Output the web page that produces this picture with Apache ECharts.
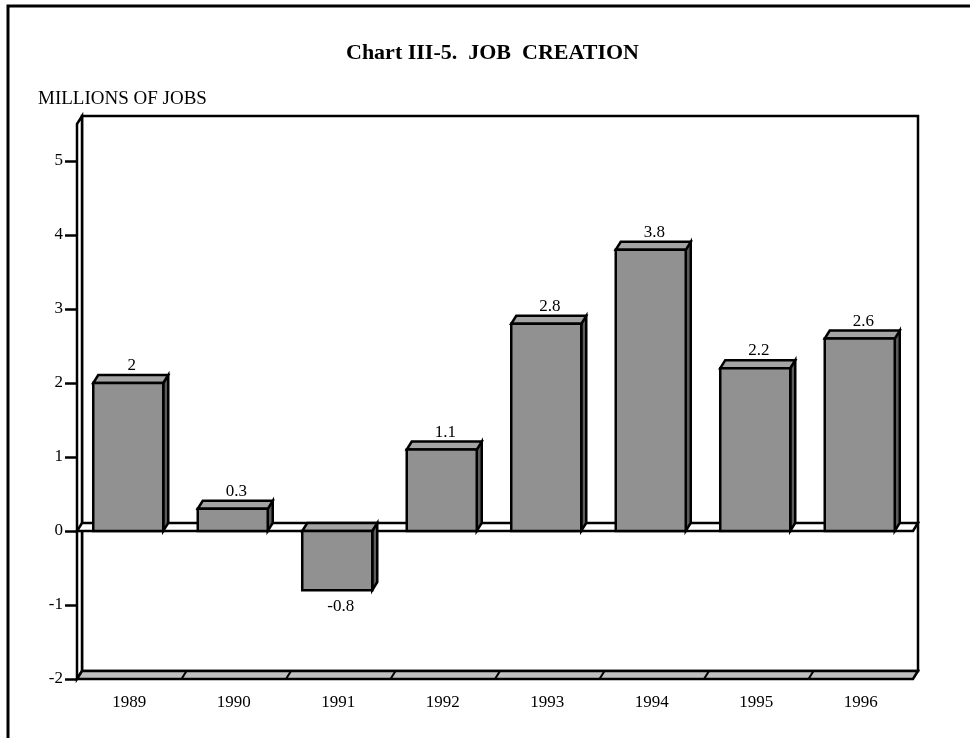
<!DOCTYPE html>
<html>
<head>
<meta charset="utf-8">
<script src="https://cdn.jsdelivr.net/npm/echarts@6/dist/echarts.min.js"></script>
<style>
html,body{margin:0;padding:0;background:#fff;}
#chart{width:970px;height:738px;}
</style>
</head>
<body>
<div id="chart"></div>
<script>
const categories = ['1989', '1990', '1991', '1992', '1993', '1994', '1995', '1996'];
const jobValues = [2, 0.3, -0.8, 1.1, 2.8, 3.8, 2.2, 2.6];
const valueLabels = ['2', '0.3', '-0.8', '1.1', '2.8', '3.8', '2.2', '2.6'];
const yMin = -2;
const yMax = 5;
const yInterval = 1;
const wallTop = 5.5;

const FONT = '"Liberation Serif", "Times New Roman", serif';
const DX = 5, DY = -8;
const LW = 2.5;

const chart = echarts.init(document.getElementById('chart'));

function renderFrame(params, api) {
  const cs = params.coordSys;
  const x0 = cs.x, x1 = cs.x + cs.width;
  const yTop = api.coord([0, wallTop])[1];
  const yBot = api.coord([0, yMin])[1];
  const y0 = api.coord([0, 0])[1];
  const stroke = { stroke: '#000', lineWidth: LW, lineJoin: 'miter' };
  const children = [];
  children.push({ type: 'rect', shape: { x: x0 + DX, y: yTop + DY, width: x1 - x0, height: yBot - yTop },
    style: Object.assign({ fill: '#fff' }, stroke) });
  children.push({ type: 'polygon', shape: { points: [[x0, yTop], [x0 + DX, yTop + DY], [x0 + DX, yBot + DY], [x0, yBot]] },
    style: Object.assign({ fill: '#fff' }, stroke) });
  children.push({ type: 'polygon', shape: { points: [[x0, yBot], [x1, yBot], [x1 + DX, yBot + DY], [x0 + DX, yBot + DY]] },
    style: Object.assign({ fill: '#c0c0c0' }, stroke) });
  const catW = api.size([1, 0])[0];
  for (let i = 1; i < categories.length; i++) {
    const xb = api.coord([i, 0])[0] - catW / 2;
    children.push({ type: 'line', shape: { x1: xb, y1: yBot, x2: xb + DX, y2: yBot + DY }, style: { stroke: '#000', lineWidth: 2 } });
  }
  children.push({ type: 'polygon', shape: { points: [[x0, y0], [x1, y0], [x1 + DX, y0 + DY], [x0 + DX, y0 + DY]] },
    style: Object.assign({ fill: '#fff' }, stroke) });
  return { type: 'group', children: children };
}

function renderBar(params, api) {
  const xi = api.value(0);
  const v = api.value(1);
  const c = api.coord([xi, v]);
  const base = api.coord([xi, 0]);
  const w = api.size([1, 0])[0] * 0.67;
  const xl = c[0] - w / 2 - 1;
  const xr = xl + w;
  const yt = Math.min(c[1], base[1]);
  const yb = Math.max(c[1], base[1]);
  const stroke = { stroke: '#000', lineWidth: LW, lineJoin: 'miter' };
  const children = [
    { type: 'polygon', shape: { points: [[xr, yt], [xr + DX, yt + DY], [xr + DX, yb + DY], [xr, yb]] },
      style: Object.assign({ fill: '#5c5c5c' }, stroke) },
    { type: 'polygon', shape: { points: [[xl, yt], [xr, yt], [xr + DX, yt + DY], [xl + DX, yt + DY]] },
      style: Object.assign({ fill: '#a4a4a4' }, stroke) },
    { type: 'rect', shape: { x: xl, y: yt, width: w, height: yb - yt },
      style: Object.assign({ fill: '#919191' }, stroke) }
  ];
  const label = valueLabels[params.dataIndex];
  if (v >= 0) {
    children.push({ type: 'text', style: { text: label, x: (xl + xr) / 2 + DX / 2 + 1, y: yt + DY - 1,
      align: 'center', verticalAlign: 'bottom', font: '17px ' + FONT, fill: '#000' } });
  } else {
    children.push({ type: 'text', style: { text: label, x: (xl + xr) / 2 + DX / 2 + 1, y: yb + 8,
      align: 'center', verticalAlign: 'top', font: '17px ' + FONT, fill: '#000' } });
  }
  return { type: 'group', children: children };
}

const option = {
  animation: false,
  backgroundColor: '#fff',
  title: [
    { text: 'Chart III-5.  JOB  CREATION', left: 346, top: 42, padding: 0,
      textStyle: { fontFamily: FONT, fontSize: 22, fontWeight: 'bold', color: '#000' } },
    { text: 'MILLIONS OF JOBS', left: 38, top: 90, padding: 0,
      textStyle: { fontFamily: FONT, fontSize: 19, fontWeight: 'normal', color: '#000' } }
  ],
  graphic: [
    { type: 'polyline', shape: { points: [[8, 738], [8, 6], [970, 6]] }, style: { stroke: '#000', lineWidth: 3, fill: null } }
  ],
  grid: { left: 77, right: 57, top: 161, bottom: 59, containLabel: false },
  xAxis: {
    type: 'category',
    data: categories,
    axisLine: { show: false },
    axisTick: { show: false },
    axisLabel: { fontFamily: FONT, fontSize: 17, color: '#000', margin: 15 },
    splitLine: { show: false }
  },
  yAxis: {
    type: 'value',
    min: yMin, max: yMax, interval: yInterval,
    axisLine: { show: false },
    axisTick: { show: true, length: 12, lineStyle: { color: '#000', width: 2.5 } },
    axisLabel: { fontFamily: FONT, fontSize: 17, color: '#000', margin: 14 },
    splitLine: { show: false }
  },
  series: [
    { type: 'custom', renderItem: renderFrame, data: [[0, 0]], z: 1, clip: false, silent: true },
    { type: 'custom', renderItem: renderBar, data: jobValues.map((v, i) => [i, v]), z: 2, clip: false }
  ]
};
chart.setOption(option);
</script>
</body>
</html>
